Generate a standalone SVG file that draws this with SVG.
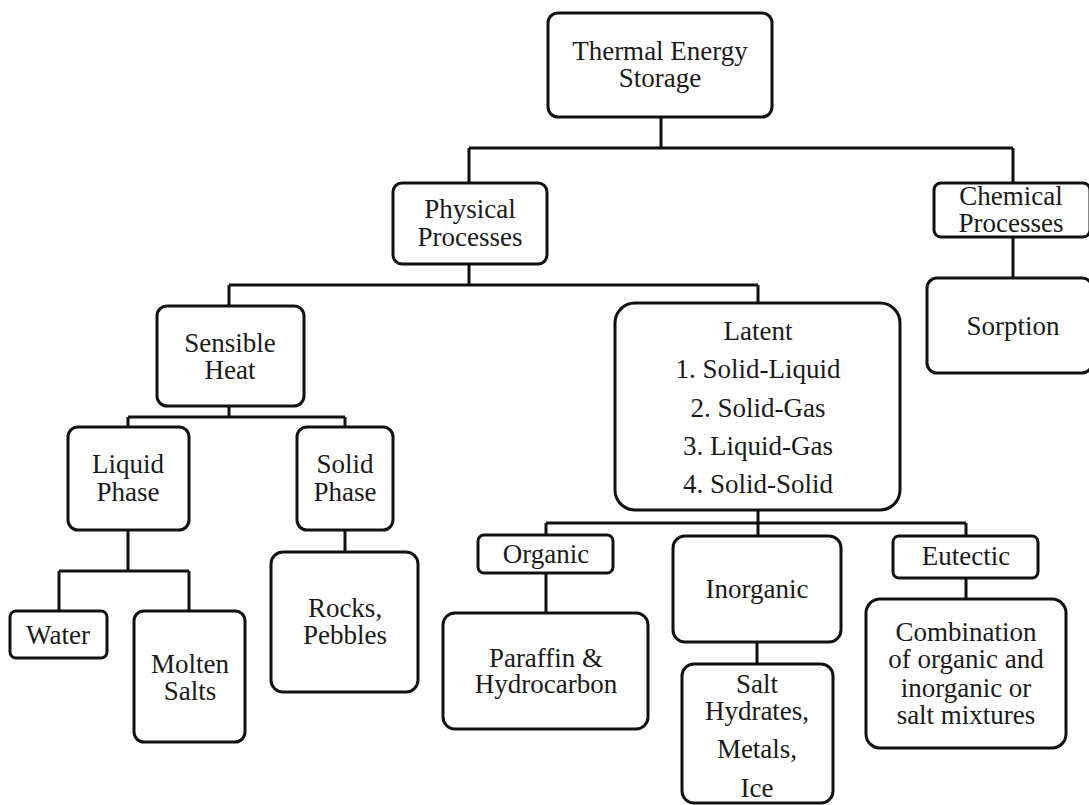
<svg xmlns="http://www.w3.org/2000/svg" width="1089" height="805" viewBox="0 0 1089 805">
<style>
.b{fill:#fff;stroke:#111;stroke-width:3}
.c{fill:none;stroke:#111;stroke-width:3}
text{font-size:27px;fill:#1a1a1a;text-anchor:middle}
</style>
<rect width="1089" height="805" fill="#fff"/>
<g id="connectors">
<path class="c" d="M661 117V148M469 148H1013M469 148V183M1013 148V183M1013 237V278"/>
<path class="c" d="M469 264V285M229 285H758M229 285V306M758 285V303"/>
<path class="c" d="M229 406V417M128 417H345M128 417V427M345 417V427"/>
<path class="c" d="M128 530V571M59 571H189M59 571V611M189 571V611M345 530V552"/>
<path class="c" d="M758 510V523M546 523H966M546 523V535M758 523V536M966 523V536"/>
<path class="c" d="M546 573V613M757 642V664M966 578V599"/>
</g>
<g id="nodes" font-family="Liberation Serif, Times New Roman, DejaVu Serif, serif">
<g id="tes"><rect class="b" x="548" y="13" width="224" height="104" rx="10"/><text x="660" y="60">Thermal Energy</text><text x="660" y="87">Storage</text></g>
<g id="physical"><rect class="b" x="393" y="183" width="154" height="81" rx="9"/><text x="470" y="218">Physical</text><text x="470" y="246">Processes</text></g>
<g id="chemical"><rect class="b" x="934" y="183" width="156" height="54" rx="7"/><text x="1011" y="205">Chemical</text><text x="1011" y="232">Processes</text></g>
<g id="sorption"><rect class="b" x="927" y="278" width="165" height="95" rx="10"/><text x="1013" y="335">Sorption</text></g>
<g id="sensible"><rect class="b" x="157" y="306" width="147" height="100" rx="10"/><text x="230" y="352">Sensible</text><text x="230" y="379">Heat</text></g>
<g id="latent"><rect class="b" x="615" y="303" width="285" height="207" rx="20"/><text x="758" y="340">Latent</text><text x="758" y="378">1. Solid-Liquid</text><text x="758" y="417">2. Solid-Gas</text><text x="758" y="455">3. Liquid-Gas</text><text x="758" y="493">4. Solid-Solid</text></g>
<g id="liquid"><rect class="b" x="68" y="427" width="121" height="103" rx="10"/><text x="128" y="473">Liquid</text><text x="128" y="501">Phase</text></g>
<g id="solid"><rect class="b" x="297" y="427" width="96" height="103" rx="10"/><text x="345" y="473">Solid</text><text x="345" y="501">Phase</text></g>
<g id="water"><rect class="b" x="10" y="611" width="97" height="47" rx="6"/><text x="58" y="644">Water</text></g>
<g id="molten"><rect class="b" x="134" y="611" width="111" height="131" rx="10"/><text x="190" y="673">Molten</text><text x="190" y="700">Salts</text></g>
<g id="rocks"><rect class="b" x="271" y="552" width="147" height="140" rx="12"/><text x="345" y="617">Rocks,</text><text x="345" y="644">Pebbles</text></g>
<g id="organic"><rect class="b" x="478" y="535" width="135" height="38" rx="6"/><text x="546" y="563">Organic</text></g>
<g id="paraffin"><rect class="b" x="443" y="613" width="205" height="116" rx="12"/><text x="546" y="667">Paraffin &amp;</text><text x="546" y="693">Hydrocarbon</text></g>
<g id="inorganic"><rect class="b" x="673" y="536" width="168" height="106" rx="12"/><text x="757" y="598">Inorganic</text></g>
<g id="salt"><rect class="b" x="682" y="664" width="151" height="139" rx="12"/><text x="757" y="693">Salt</text><text x="757" y="720">Hydrates,</text><text x="757" y="758">Metals,</text><text x="757" y="797">Ice</text></g>
<g id="eutectic"><rect class="b" x="893" y="536" width="145" height="42" rx="6"/><text x="966" y="565">Eutectic</text></g>
<g id="combination"><rect class="b" x="866" y="599" width="200" height="149" rx="14"/><text x="966" y="641">Combination</text><text x="966" y="668">of organic and</text><text x="966" y="697">inorganic or</text><text x="966" y="724">salt mixtures</text></g>
</g>
</svg>
